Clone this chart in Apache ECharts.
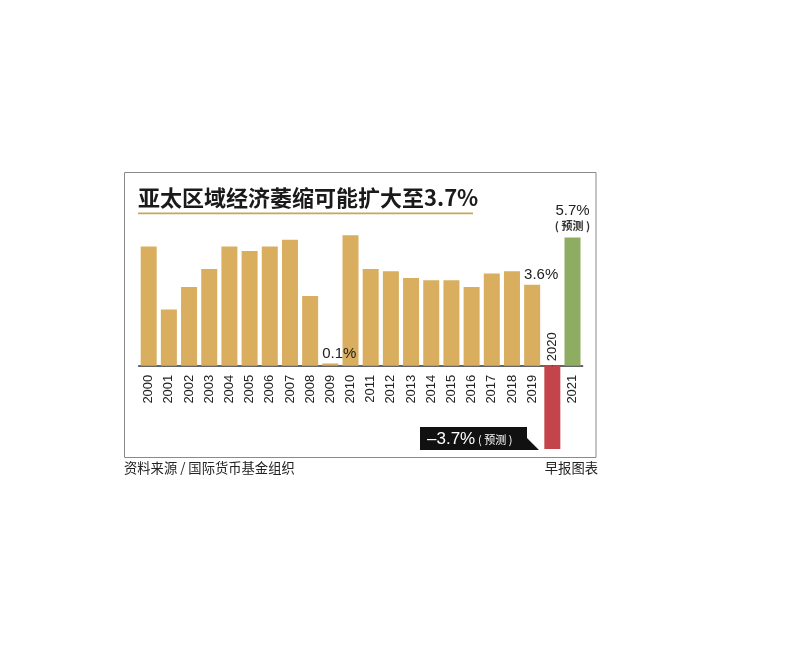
<!DOCTYPE html>
<html><head><meta charset="utf-8">
<script src="https://cdn.jsdelivr.net/npm/echarts@6/dist/echarts.min.js"></script>
<style>html,body{margin:0;padding:0;background:#fff}#c{width:800px;height:658px}</style>
</head><body><div id="c"></div>
<script>
const years = ['2000','2001','2002','2003','2004','2005','2006','2007','2008','2009','2010','2011','2012','2013','2014','2015','2016','2017','2018','2019','2020','2021'];
const growth = [5.3, 2.5, 3.5, 4.3, 5.3, 5.1, 5.3, 5.6, 3.1, 0.1, 5.8, 4.3, 4.2, 3.9, 3.8, 3.8, 3.5, 4.1, 4.2, 3.6, -3.7, 5.7];
const labelledYears = { '2009': '0.1%', '2019': '3.6%' };
const forecastYear = '2021';
const contractionYear = '2020';

const GOLD = '#D9AE5E', RED = '#C3454B', GREEN = '#8FAD62';
const NUM_FONT = '"Liberation Sans", Arial, sans-serif';
const CJK_FONT = '"Noto Sans CJK SC", sans-serif';

const barData = years.map((y, i) => {
  const item = { value: growth[i], itemStyle: { color: GOLD } };
  if (y === contractionYear) item.itemStyle.color = RED;
  if (y === forecastYear) {
    item.itemStyle.color = GREEN;
    item.label = {
      show: true, position: 'top', distance: 4,
      formatter: '{a|' + growth[i].toFixed(1) + '%}\n{b|( 预测 )}',
      rich: {
        a: { fontFamily: NUM_FONT, fontSize: 15, color: '#222', lineHeight: 16 },
        b: { fontFamily: CJK_FONT, fontSize: 11, fontWeight: 'bold', color: '#333', lineHeight: 15 }
      }
    };
  }
  if (labelledYears[y]) {
    item.label = {
      show: true, position: 'top', distance: 2, offset: [9, 0],
      formatter: labelledYears[y],
      fontFamily: NUM_FONT, fontSize: 15, color: '#222'
    };
  }
  return item;
});

const chart = echarts.init(document.getElementById('c'), null, { renderer: 'canvas' });
chart.setOption({
  backgroundColor: '#fff',
  animation: false,
  grid: { left: 138.6, right: 217.4, top: 230.7, bottom: 292.3, containLabel: false },
  xAxis: {
    type: 'category', data: years,
    axisLine: { show: true, onZero: false, lineStyle: { color: '#333', width: 1.5 } },
    axisTick: { show: false },
    axisLabel: {
      rotate: 90, margin: 9, interval: 0,
      fontFamily: NUM_FONT, fontSize: 13, color: '#222',
      formatter: v => v === contractionYear ? '' : v
    }
  },
  yAxis: { type: 'value', min: 0, max: 6, show: false, splitLine: { show: false } },
  series: [
    { type: 'bar', data: barData, barWidth: 16, z: 2, clip: false },
    {
      type: 'scatter', symbol: 'rect', symbolSize: 1, itemStyle: { color: '#333', opacity: 1 }, z: 3, clip: false,
      data: [[contractionYear, 0]],
      label: {
        show: true, position: 'top', distance: 4, rotate: 90,
        align: 'left', verticalAlign: 'middle', opacity: 1,
        formatter: contractionYear,
        fontFamily: NUM_FONT, fontSize: 13, color: '#222'
      }
    }
  ],
  graphic: [
    { type: 'rect', shape: { x: 124.5, y: 172.5, width: 471.5, height: 285 },
      style: { fill: 'none', stroke: '#8a8a8a', lineWidth: 1 }, z: -1 },
    { type: 'text', x: 138, y: 198,
      style: { text: '亚太区域经济萎缩可能扩大至3.7%', fontFamily: CJK_FONT, fontWeight: 'bold',
        fontSize: 22, fill: '#1a1a1a', verticalAlign: 'middle', align: 'left' } },
    { type: 'rect', shape: { x: 138, y: 212.5, width: 335, height: 1.8 }, style: { fill: '#C9A65A' } },
    { type: 'polygon', shape: { points: [[420, 427], [527, 427], [527, 438], [539, 450], [420, 450]] },
      style: { fill: '#111' } },
    { type: 'text', x: 427, y: 439,
      style: { text: '–3.7%', fontFamily: NUM_FONT, fontSize: 17, fill: '#fff', verticalAlign: 'middle' } },
    { type: 'text', x: 478, y: 440,
      style: { text: '( 预测 )', fontFamily: CJK_FONT, fontSize: 11, fill: '#fff', verticalAlign: 'middle' } },
    { type: 'text', x: 124, y: 468,
      style: { text: '资料来源 / 国际货币基金组织', fontFamily: CJK_FONT, fontSize: 13.3, fill: '#222', verticalAlign: 'middle' } },
    { type: 'text', x: 598, y: 468,
      style: { text: '早报图表', fontFamily: CJK_FONT, fontSize: 13.3, fill: '#222', verticalAlign: 'middle', align: 'right' } }
  ]
});
</script></body></html>
